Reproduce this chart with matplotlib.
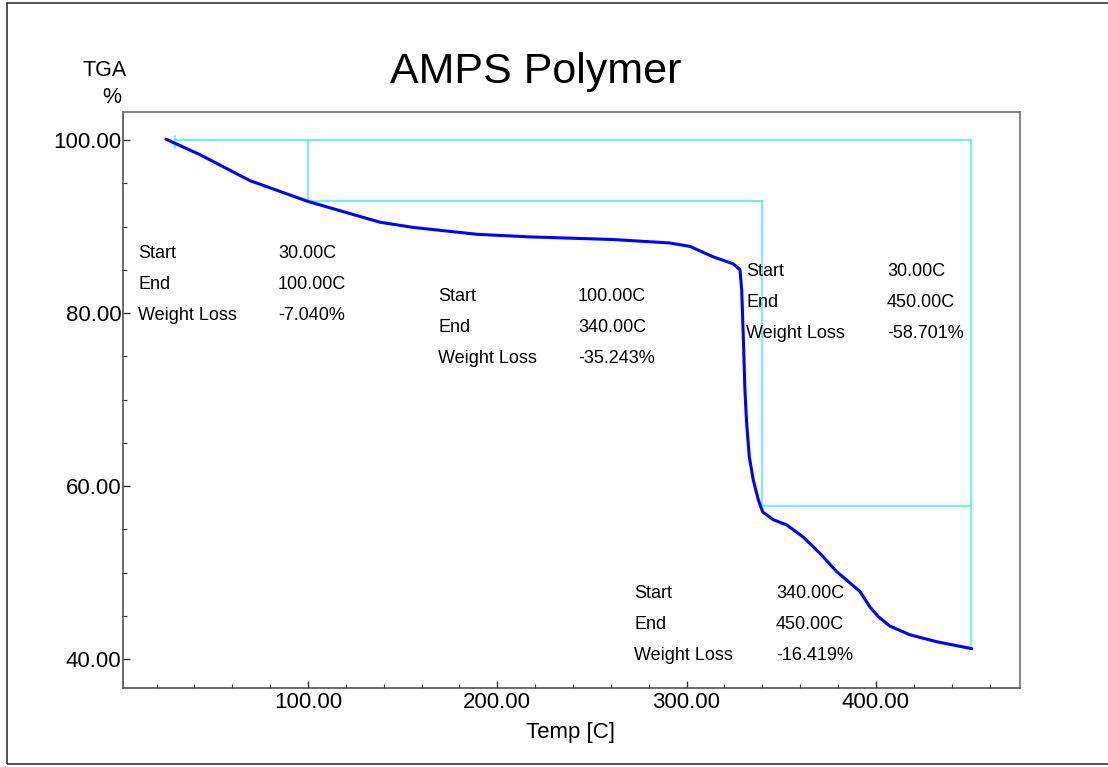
"""TGA curve of AMPS polymer with step weight-loss annotations."""

import matplotlib
matplotlib.use("Agg")
import matplotlib.pyplot as plt
from matplotlib.patches import Rectangle
from matplotlib.ticker import MultipleLocator, FormatStrFormatter

plt.rcParams["font.family"] = ["Liberation Sans", "DejaVu Sans"]

# TGA trace (temperature in C, weight in %)
temp = [25.0, 43.0, 69.4, 100.0, 138.0, 155.5, 189.3, 217.3, 261.0, 291.0,
        301.8, 314.0, 324.5, 327.2, 328.2, 329.1, 330.0, 330.8, 331.7, 333.1,
        335.2, 337.9, 340.2, 345.8, 352.9, 361.6, 370.5, 379.3, 391.6, 396.9,
        401.3, 407.4, 418.0, 432.1, 450.6]
weight = [100.1, 98.3, 95.3, 92.9, 90.5, 89.9, 89.1, 88.8, 88.5, 88.1,
          87.7, 86.5, 85.7, 85.2, 85.0, 82.7, 76.9, 71.1, 67.3, 63.4,
          60.7, 58.4, 57.0, 56.1, 55.5, 54.1, 52.2, 50.1, 47.8, 46.0,
          44.9, 43.8, 42.8, 42.0, 41.2]

# step analysis results
step_start = [30.0, 100.0, 340.0]
step_end = [100.0, 340.0, 450.0]
step_loss = [-7.040, -35.243, -16.419]
total_start = 30.0
total_end = 450.0
total_loss = -58.701

row_names = ["Start", "End", "Weight Loss"]

W, H = 1108, 767
fig = plt.figure(figsize=(W / 100, H / 100), dpi=100)


def px(x, y):
    return x / W, 1 - y / H


# outer frame (right edge falls just outside the picture)
fig.patches.append(Rectangle(px(7, 764), (1112 - 7) / W, (764 - 3) / H,
                             transform=fig.transFigure, fill=False,
                             edgecolor="#333333", linewidth=1.2))

ax = fig.add_axes([123 / W, 1 - 688 / H, (1020 - 123) / W, (688 - 112) / H])
ax.set_xlim(2.3, 476.1)
ax.set_ylim(36.65, 103.24)

# step lines
cyan = "#40f0f0"
top = 100.0
levels = [top]
for loss in step_loss:
    levels.append(levels[-1] + loss)
ax.plot([total_start, total_end], [top, top], color=cyan, lw=1.1)
ax.plot([total_end, total_end], [top, top + total_loss], color=cyan, lw=1.1)
ax.plot([total_start, total_start], [top + 0.5, top - 0.9], color=cyan, lw=1.1)
for i in range(len(step_start) - 1):
    x1, x2 = step_end[i], step_end[i + 1]
    ax.plot([x1, x1], [levels[i], levels[i + 1]], color=cyan, lw=1.1)
    ax.plot([x1, x2], [levels[i + 1], levels[i + 1]], color=cyan, lw=1.1)

ax.plot(temp, weight, color="#0000ff", lw=2.2, solid_capstyle="round")

for side in ["left", "bottom"]:
    ax.spines[side].set_color("#444444")
    ax.spines[side].set_linewidth(1.1)
for side in ["top", "right"]:
    ax.spines[side].set_color("#666666")
    ax.spines[side].set_linewidth(1.1)

ax.xaxis.set_major_locator(MultipleLocator(100))
ax.xaxis.set_minor_locator(MultipleLocator(20))
ax.yaxis.set_major_locator(MultipleLocator(20))
ax.yaxis.set_minor_locator(MultipleLocator(5))
ax.xaxis.set_major_formatter(FormatStrFormatter("%.2f"))
ax.yaxis.set_major_formatter(FormatStrFormatter("%.2f"))
ax.tick_params(which="both", direction="in", color="#333333", labelsize=16)
ax.tick_params(which="major", length=5, width=1)
ax.tick_params(which="minor", length=3, width=0.8)
ax.tick_params(axis="y", pad=1)
ax.tick_params(axis="x", pad=3)

# titles and axis captions
fig.text(*px(536, 83), "AMPS Polymer", fontsize=31, ha="center", va="baseline")
fig.text(*px(105, 76), "TGA", fontsize=15.5, ha="center", va="baseline")
fig.text(*px(112, 103), "%", fontsize=15.5, ha="center", va="baseline")
fig.text(*px(570, 738), "Temp [C]", fontsize=16, ha="center", va="baseline")

# annotation blocks: (label x, value x, first baseline y) in pixels
blocks = [
    (138, 278, 258, step_start[0], step_end[0], step_loss[0]),
    (438, 578, 301, step_start[1], step_end[1], step_loss[1]),
    (746, 887, 276, total_start, total_end, total_loss),
    (634, 776, 598, step_start[2], step_end[2], step_loss[2]),
]
for lx, vx, by, s, e, loss in blocks:
    values = [f"{s:.2f}C", f"{e:.2f}C", f"{loss:.3f}%"]
    for k, (name, val) in enumerate(zip(row_names, values)):
        y = by + k * 30.8
        fig.text(*px(lx, y), name, fontsize=13, va="baseline")
        fig.text(*px(vx, y), val, fontsize=13, va="baseline")

fig.savefig("out.png", dpi=100)
